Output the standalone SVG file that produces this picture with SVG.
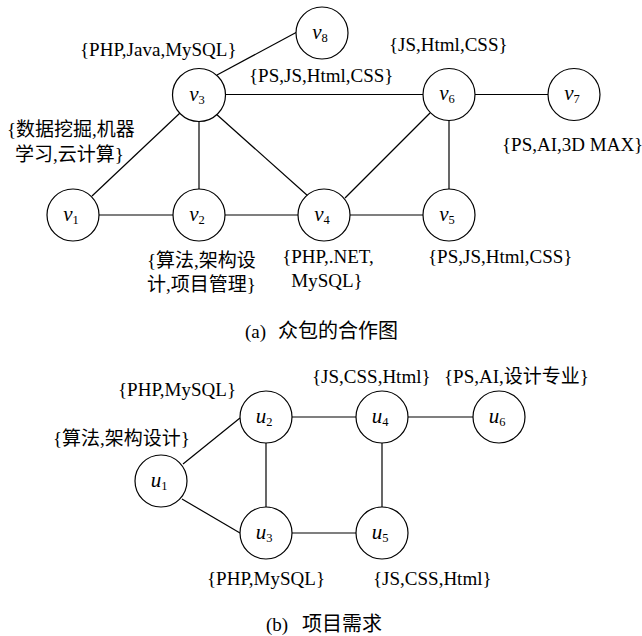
<svg xmlns="http://www.w3.org/2000/svg" width="642" height="636" viewBox="0 0 642 636">
<style>
.edge{stroke:#000;stroke-width:1.2;fill:none}
.node circle{fill:#fff;stroke:#000;stroke-width:1.2}
.nl{font-size:21px;font-style:italic;text-anchor:middle;fill:#000}
.sub{font-size:12.5px;font-style:normal}
.lbl{font-size:19px;fill:#000}
.mid{text-anchor:middle}
.capc{font-size:20px;fill:#000}
</style>
<rect width="642" height="636" fill="#fff"/>
<g id="connectors">
<line class="edge" x1="217" y1="75" x2="297" y2="32"/>
<line class="edge" x1="225" y1="94.5" x2="423" y2="94.5"/>
<line class="edge" x1="180" y1="113" x2="92" y2="196"/>
<line class="edge" x1="199" y1="122" x2="199" y2="189"/>
<line class="edge" x1="215" y1="113" x2="308" y2="196"/>
<line class="edge" x1="99" y1="215" x2="173" y2="215"/>
<line class="edge" x1="225" y1="215" x2="298" y2="215"/>
<line class="edge" x1="345" y1="198" x2="430" y2="113"/>
<line class="edge" x1="449" y1="120" x2="449" y2="189"/>
<line class="edge" x1="350" y1="215" x2="423" y2="215"/>
<line class="edge" x1="475" y1="94.5" x2="548" y2="94.5"/>
<line class="edge" x1="183" y1="464" x2="240" y2="418"/>
<line class="edge" x1="182" y1="499" x2="240" y2="533"/>
<line class="edge" x1="266" y1="443" x2="266" y2="507"/>
<line class="edge" x1="292" y1="417" x2="356" y2="417"/>
<line class="edge" x1="408" y1="417" x2="473" y2="417"/>
<line class="edge" x1="382" y1="443" x2="382" y2="507"/>
<line class="edge" x1="292" y1="533" x2="356" y2="533"/>
</g>
<g font-family="'Liberation Serif', 'Times New Roman', Times, serif">
<g id="v1" class="node"><circle cx="73" cy="215" r="26"/><text class="nl" x="71" y="221">v<tspan class="sub" dy="3">1</tspan></text></g>
<g id="v2" class="node"><circle cx="199" cy="215" r="26"/><text class="nl" x="197" y="221">v<tspan class="sub" dy="3">2</tspan></text></g>
<g id="v3" class="node"><circle cx="199" cy="95" r="26.5"/><text class="nl" x="197" y="101">v<tspan class="sub" dy="3">3</tspan></text></g>
<g id="v4" class="node"><circle cx="324" cy="215" r="26"/><text class="nl" x="322" y="221">v<tspan class="sub" dy="3">4</tspan></text></g>
<g id="v5" class="node"><circle cx="449" cy="215" r="26"/><text class="nl" x="447" y="221">v<tspan class="sub" dy="3">5</tspan></text></g>
<g id="v6" class="node"><circle cx="449" cy="94.5" r="26"/><text class="nl" x="447" y="100">v<tspan class="sub" dy="3">6</tspan></text></g>
<g id="v7" class="node"><circle cx="574" cy="94.5" r="26"/><text class="nl" x="572" y="100">v<tspan class="sub" dy="3">7</tspan></text></g>
<g id="v8" class="node"><circle cx="322" cy="33" r="26"/><text class="nl" x="320" y="39">v<tspan class="sub" dy="3">8</tspan></text></g>
<g id="u1" class="node"><circle cx="161" cy="481" r="26"/><text class="nl" x="159" y="487">u<tspan class="sub" dy="3">1</tspan></text></g>
<g id="u2" class="node"><circle cx="266" cy="417" r="26"/><text class="nl" x="264" y="423">u<tspan class="sub" dy="3">2</tspan></text></g>
<g id="u3" class="node"><circle cx="266" cy="533" r="26"/><text class="nl" x="264" y="539">u<tspan class="sub" dy="3">3</tspan></text></g>
<g id="u4" class="node"><circle cx="382" cy="417" r="26"/><text class="nl" x="380" y="423">u<tspan class="sub" dy="3">4</tspan></text></g>
<g id="u5" class="node"><circle cx="382" cy="533" r="26"/><text class="nl" x="380" y="539">u<tspan class="sub" dy="3">5</tspan></text></g>
<g id="u6" class="node"><circle cx="499" cy="417" r="26"/><text class="nl" x="497" y="423">u<tspan class="sub" dy="3">6</tspan></text></g>
</g>
<g id="labels" font-family="'Liberation Serif', 'Times New Roman', 'Noto Sans CJK SC', serif">
<text class="lbl" x="80" y="56">{PHP,Java,MySQL}</text>
<text class="lbl" x="249" y="82">{PS,JS,Html,CSS}</text>
<text class="lbl" x="389" y="51">{JS,Html,CSS}</text>
<text class="lbl" x="502" y="151">{PS,AI,3D MAX}</text>
<text class="lbl" x="7" y="136">{数据挖掘,机器</text>
<text class="lbl" x="15" y="161">学习,云计算}</text>
<text class="lbl" x="147" y="267">{算法,架构设</text>
<text class="lbl" x="147" y="291">计,项目管理}</text>
<text class="lbl mid" x="328" y="263">{PHP,.NET,</text>
<text class="lbl mid" x="327" y="287">MySQL}</text>
<text class="lbl" x="428" y="263">{PS,JS,Html,CSS}</text>
<text class="lbl" x="245" y="338">(a)</text>
<text class="capc" x="278" y="338" font-family="'Noto Sans CJK SC', sans-serif">众包的合作图</text>
<text class="lbl" x="118" y="396">{PHP,MySQL}</text>
<text class="lbl" x="53" y="445">{算法,架构设计}</text>
<text class="lbl" x="312" y="383">{JS,CSS,Html}</text>
<text class="lbl" x="444" y="383">{PS,AI,设计专业}</text>
<text class="lbl" x="207" y="585">{PHP,MySQL}</text>
<text class="lbl" x="373" y="585">{JS,CSS,Html}</text>
<text class="lbl" x="266" y="631">(b)</text>
<text class="capc" x="302" y="631" font-family="'Noto Sans CJK SC', sans-serif">项目需求</text>
</g>
</svg>
